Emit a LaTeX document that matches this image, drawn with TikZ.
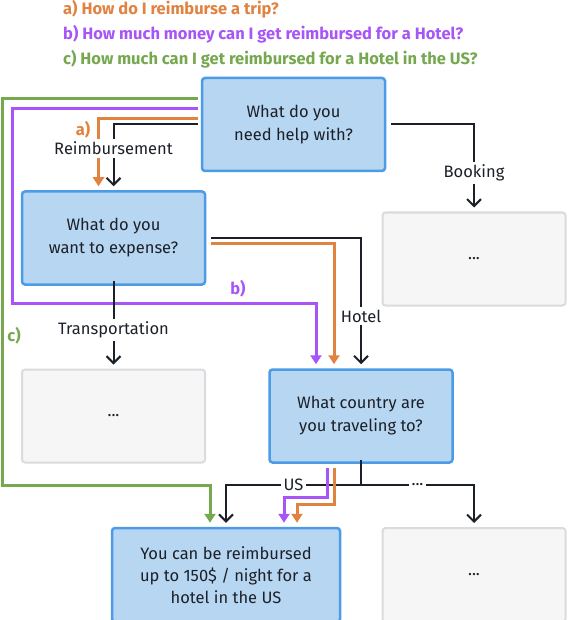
\documentclass[tikz,border=0pt]{standalone}
\usepackage{xcolor,tikz,fontspec}
\setmainfont{Fira Sans}
\usetikzlibrary{arrows.meta,positioning,calc}
\definecolor{ink}{RGB}{28,32,40}
\definecolor{skyfill}{RGB}{183,214,242}
\definecolor{skyline}{RGB}{76,155,230}
\definecolor{greyfill}{RGB}{246,246,246}
\definecolor{greyline}{RGB}{218,218,223}
\definecolor{orange}{RGB}{224,130,64}
\definecolor{purple}{RGB}{168,85,247}
\definecolor{green}{RGB}{118,168,80}
\tikzset{
  ask/.style={draw=skyline,fill=skyfill,line width=2.5pt,rounded corners=3pt,minimum width=183pt,minimum height=93pt,align=center,font=\fontsize{16.5}{23}\selectfont,text=ink},
  more/.style={draw=greyline,fill=greyfill,line width=2pt,rounded corners=3pt,minimum width=183pt,minimum height=93pt,font=\fontsize{16.5}{22}\selectfont,text=ink},
  blk/.style={-{Straight Barb[length=7pt,width=14pt,line width=2pt]},line width=2pt,draw=ink,shorten >=4pt},
  path/.style={-{Triangle[length=9pt,width=11pt]},line width=3pt,shorten >=4pt},
  lbl/.style={fill=white,inner sep=3pt,font=\fontsize{16.5}{18}\selectfont,text=ink},
  tag/.style={font=\fontsize{16.5}{18}\selectfont\bfseries},
  q/.style={anchor=west,font=\fontsize{16.5}{18}\selectfont\bfseries}
}
\begin{document}
\begin{tikzpicture}[x=1pt,y=-1pt]
  \useasboundingbox (0,0) rectangle (568,620);
  % questions
  \node[q,text=orange,inner sep=0pt] (qa) at (63,9) {a) How do I reimburse a trip?};
  \node[q,text=purple,inner sep=0pt] (qb) at (63,34) {b) How much money can I get reimbursed for a Hotel?};
  \node[q,text=green,inner sep=0pt] (qc) at (63,59) {c) How much can I get reimbursed for a Hotel in the US?};

  \node[ask] (help) at (293.5,124.5) {What do you\\need help with?};
  \node[ask] (expense) at (113.5,238) {What do you\\want to expense?};
  \node[more] (bookmore) at (474,259) {...};
  \node[more] (transmore) at (113.5,416) {...};
  \node[ask] (country) at (361,416) {What country are\\you traveling to?};
  \node[ask,minimum width=228pt,minimum height=94pt,font=\fontsize{16.5}{22}\selectfont] (result) at (226,575) {You can be reimbursed\\up to 150\$ / night for a\\hotel in the US};
  \node[more,minimum height=94pt] (othermore) at (474,575) {...};

  % coloured question paths
  \draw[path,draw=green] ([shift={(-3,-26)}]help.west) -| (2,485) -| ([xshift=-16]result.north);
  \draw[path,draw=purple] ([shift={(-3,-16)}]help.west) -| (12,303) -| ([xshift=-45]country.north);
  \draw[path,draw=orange] ([shift={(-3,-6)}]help.west) -| ([xshift=-15]expense.north);
  \draw[path,draw=orange] ([shift={(5,5)}]expense.east) -| ([xshift=-27]country.north);
  \node[tag,text=orange] (taga) at (83,130) {a)};
  \node[tag,text=purple] (tagb) at (238,289) {b)};
  \node[tag,text=green] (tagc) at (14,336) {c)};

  % tree connectors
  \draw[blk] ([xshift=-3]help.west) -| node[lbl,pos=.68] (reimb) {Reimbursement} (expense.north);
  \draw[blk] ([xshift=5]help.east) -| node[lbl,pos=.78] (booking) {Booking} (bookmore.north);
  \draw[blk] ([xshift=5]expense.east) -| node[lbl,pos=.8] (hotel) {Hotel} (country.north);
  \draw[blk] ([yshift=5]expense.south) -- node[lbl,pos=.56] (transport) {Transportation} (transmore.north);
  \draw[line width=2pt,draw=ink] ([yshift=4]country.south) -- (361,485) coordinate (split);
  \draw[blk] (split) -| node[lbl,pos=.25] (us) {US} (result.north);
  \draw[blk] (split) -| node[lbl,pos=.25] (dots) {...} (othermore.north);

  \draw[path,draw=purple] ([shift={(-34,4)}]country.south) |- (284,497) -- ([xshift=58]result.north);
  \draw[path,draw=orange] ([shift={(-27,4)}]country.south) |- (297,504) -- ([xshift=71]result.north);
\end{tikzpicture}
\end{document}
